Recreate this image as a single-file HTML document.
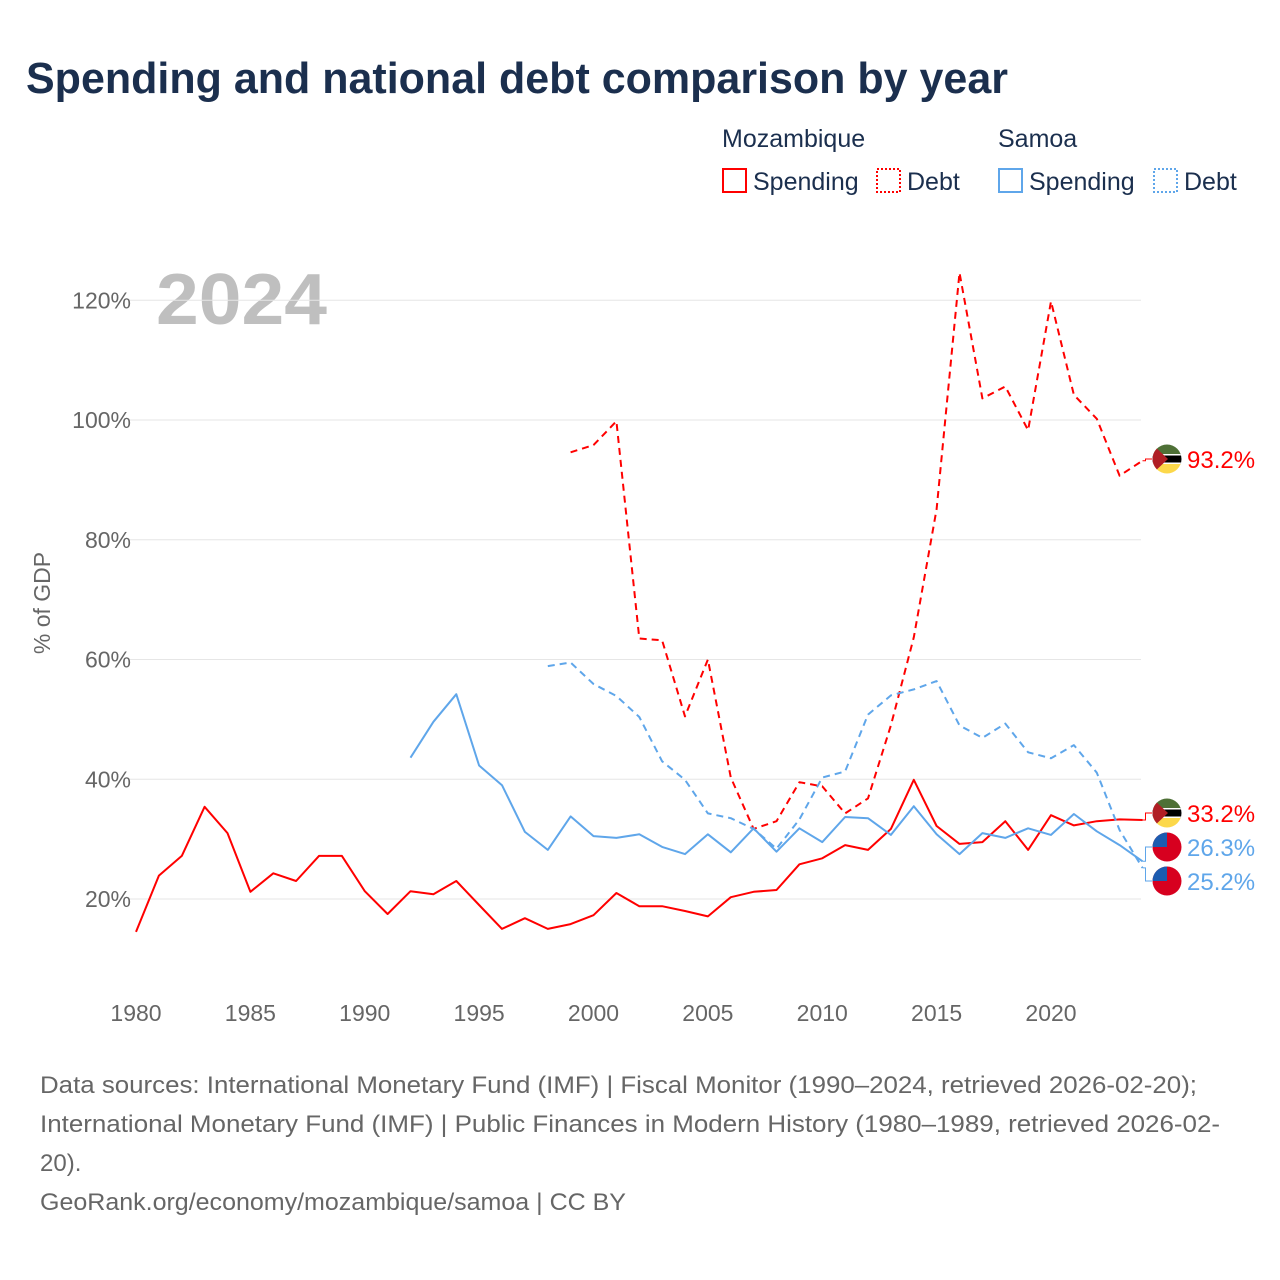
<!DOCTYPE html>
<html><head><meta charset="utf-8"><style>
body{margin:0;background:#fff;font-family:"Liberation Sans",sans-serif;}
#wrap{position:relative;width:1280px;height:1280px;overflow:hidden;}
</style></head><body>
<div id="wrap">
<svg id="c" width="1280" height="1280">
<text x="26" y="93" font-size="44" font-weight="bold" fill="#1b2f4e" textLength="982" lengthAdjust="spacingAndGlyphs">Spending and national debt comparison by year</text>
<g font-size="25" fill="#1b2f4e">
<text x="722" y="147">Mozambique</text>
<text x="998" y="147">Samoa</text>
<rect x="723" y="169" width="23" height="23" fill="none" stroke="#f00" stroke-width="2"/>
<text x="753" y="190">Spending</text>
<rect x="877" y="169" width="23" height="23" fill="none" stroke="#f00" stroke-width="2" stroke-dasharray="2,2"/>
<text x="907" y="190">Debt</text>
<rect x="999" y="169" width="23" height="23" fill="none" stroke="#5fa6ea" stroke-width="2"/>
<text x="1029" y="190">Spending</text>
<rect x="1154" y="169" width="23" height="23" fill="none" stroke="#5fa6ea" stroke-width="2" stroke-dasharray="2,2"/>
<text x="1184" y="190">Debt</text>
</g>
<text x="156" y="324" font-size="72" font-weight="bold" fill="#bfbfbf" textLength="171" lengthAdjust="spacingAndGlyphs">2024</text>
<text transform="translate(50,603) rotate(-90)" text-anchor="middle" font-size="23" fill="#666">% of GDP</text>
<g id="grid"></g><g id="marks"></g><g id="labels"></g>
<g font-size="24" fill="#666">
<text x="40" y="1093" textLength="1157" lengthAdjust="spacingAndGlyphs">Data sources: International Monetary Fund (IMF) | Fiscal Monitor (1990–2024, retrieved 2026-02-20);</text>
<text x="40" y="1132" textLength="1180" lengthAdjust="spacingAndGlyphs">International Monetary Fund (IMF) | Public Finances in Modern History (1980–1989, retrieved 2026-02-</text>
<text x="40" y="1171">20).</text>
<text x="40" y="1210" textLength="586" lengthAdjust="spacingAndGlyphs">GeoRank.org/economy/mozambique/samoa | CC BY</text>
</g>
</svg></div>
<script>
const yTicks=[20,40,60,80,100,120];
const xTicks=[1980,1985,1990,1995,2000,2005,2010,2015,2020];
const mozSpendStart=1980;
const mozSpend=[14.5,23.9,27.2,35.4,31.0,21.2,24.3,23.0,27.2,27.2,21.3,17.5,21.3,20.8,23.0,19.0,15.0,16.8,15.0,15.8,17.3,21.0,18.8,18.8,18.0,17.1,20.3,21.2,21.5,25.8,26.8,29.0,28.2,31.7,39.9,32.2,29.2,29.5,33.0,28.2,34.0,32.3,33.0,33.3,33.2];
const mozDebtStart=1999;
const mozDebt=[94.6,95.8,99.8,63.5,63.2,50.5,60.0,40.3,31.7,33.0,39.5,38.8,34.3,36.8,49.0,63.7,85.1,124.6,103.6,105.6,98.3,119.8,104.2,100.2,90.7,93.2];
const samSpendStart=1992;
const samSpend=[43.6,49.6,54.2,42.3,39.0,31.2,28.2,33.8,30.5,30.2,30.8,28.7,27.5,30.8,27.8,31.8,27.9,31.8,29.5,33.7,33.5,30.7,35.5,30.8,27.5,31.0,30.2,31.8,30.7,34.2,31.3,29.0,26.3];
const samDebtStart=1998;
const samDebt=[58.9,59.5,55.9,53.9,50.4,43.0,39.9,34.3,33.5,31.7,28.4,33.3,40.3,41.3,50.8,54.0,55.0,56.4,49.0,46.9,49.3,44.5,43.5,45.7,41.1,31.5,25.2];
const NS="http://www.w3.org/2000/svg";
const X=y=>136+(y-1980)*22.875;
const Y=v=>1018.75-v*5.9875;
function mk(t,a,p){const e=document.createElementNS(NS,t);for(const k in a)e.setAttribute(k,a[k]);p.appendChild(e);return e;}
const grid=document.getElementById('grid'),marks=document.getElementById('marks'),labels=document.getElementById('labels');
yTicks.forEach(v=>{
 const l=mk('line',{x1:130,x2:1141,y1:Y(v),y2:Y(v),stroke:'#e6e6e6','stroke-width':1},grid);
 
 
 const t=mk('text',{x:131,y:Y(v)+8,'text-anchor':'end','font-size':23,fill:'#666'},grid);
 t.textContent=v+'%';
 
 
});
xTicks.forEach(y=>{
 const t=mk('text',{x:X(y),y:1021,'text-anchor':'middle','font-size':23,fill:'#666'},grid);
 t.textContent=y;
 
 
});
function series(arr,start,color,dash,name){
 const d=arr.map((v,i)=>(i?'L':'M')+X(start+i).toFixed(1)+','+Y(v).toFixed(1)).join('');
 const p=mk('path',{d:d,fill:'none',stroke:color,'stroke-width':2,'stroke-dasharray':dash||'none','stroke-linejoin':'round'},marks);
 
 
}
series(mozSpend,mozSpendStart,'#f00','', 'line-mozambique-spending');
series(mozDebt,mozDebtStart,'#f00','7,5','line-mozambique-debt');
series(samSpend,samSpendStart,'#5fa6ea','', 'line-samoa-spending');
series(samDebt,samDebtStart,'#5fa6ea','7,5','line-samoa-debt');
let clipN=0;
function flag(cx,cy,type,p){
 const g=mk('g',{},p);
 const id='flagclip'+(clipN++);
 const cp=mk('clipPath',{id:id},g);mk('circle',{cx:cx,cy:cy,r:14.5},cp);
 const f=mk('g',{'clip-path':'url(#'+id+')'},g);
 if(type==='moz'){
  mk('rect',{x:cx-15,y:cy-15,width:30,height:10,fill:'#4e7036'},f);
  mk('rect',{x:cx-15,y:cy-5,width:30,height:10,fill:'#000'},f);
  mk('rect',{x:cx-15,y:cy-5,width:30,height:1.5,fill:'#fff'},f);
  mk('rect',{x:cx-15,y:cy+3.5,width:30,height:1.5,fill:'#fff'},f);
  mk('rect',{x:cx-15,y:cy+5,width:30,height:10,fill:'#fcd84a'},f);
  mk('polygon',{points:(cx-15)+','+(cy-15)+' '+(cx+1)+','+cy+' '+(cx-15)+','+(cy+15),fill:'#b01e24'},f);
 }else{
  mk('rect',{x:cx-15,y:cy-15,width:30,height:30,fill:'#d7001f'},f);
  mk('rect',{x:cx-15,y:cy-15,width:15,height:15,fill:'#1c5cb0'},f);
 }
 return g;
}
const ends=[
 {v:93.2,ly:459,c:'#f00',f:'moz',sy:Y(93.2),n:'moz-debt'},
 {v:33.2,ly:813,c:'#f00',f:'moz',sy:Y(33.2),n:'moz-spending'},
 {v:26.3,ly:847,c:'#5fa6ea',f:'sam',sy:Y(26.3),n:'samoa-spending'},
 {v:25.2,ly:881,c:'#5fa6ea',f:'sam',sy:Y(25.2),n:'samoa-debt'}];
ends.forEach(e=>{
 const x0=X(2024);
 const l=mk('path',{d:`M${x0},${e.sy}H${x0+3}V${e.ly}H1152`,fill:'none',stroke:e.c,'stroke-width':1},labels);
 
 
 const g=flag(1167,e.ly,e.f,labels);
 
 
 const t=mk('text',{x:1187,y:e.ly+9,'font-size':24,fill:e.c},labels);
 t.textContent=e.v.toFixed(1)+'%';
 
 
});
</script>
</body></html>
